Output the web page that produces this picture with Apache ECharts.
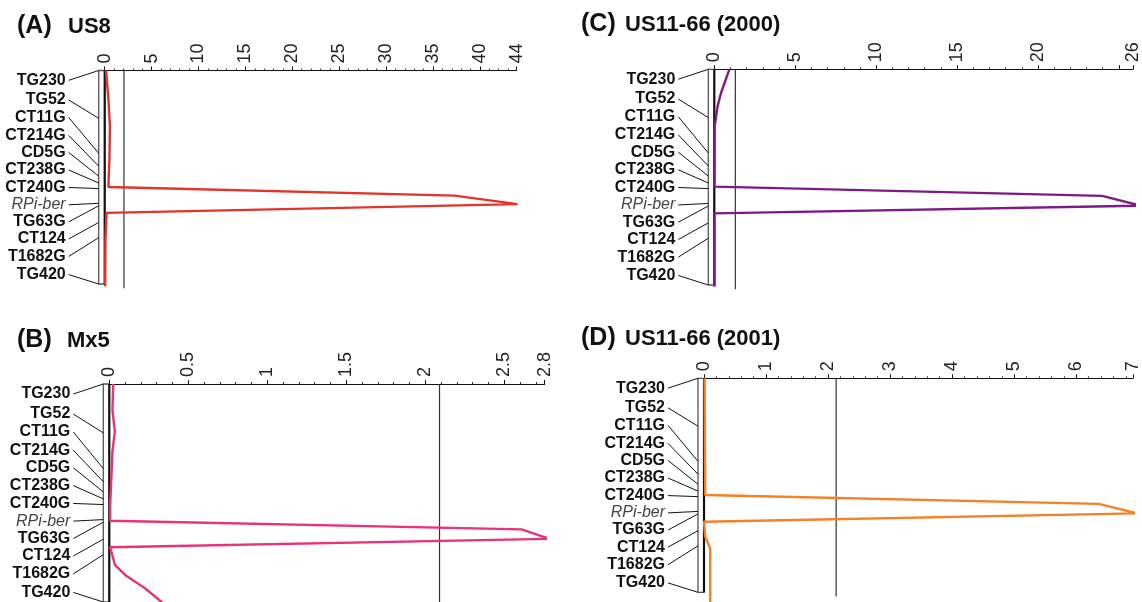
<!DOCTYPE html>
<html><head><meta charset="utf-8">
<script src="https://cdn.jsdelivr.net/npm/echarts@6/dist/echarts.min.js"></script>
<style>html,body{margin:0;padding:0;background:#fff}#c{width:1142px;height:602px}</style>
</head><body><div id="c"></div>
<script>
// ---- data ----
const markerNames = ['TG230','TG52','CT11G','CT214G','CD5G','CT238G','CT240G','RPi-ber','TG63G','CT124','T1682G','TG420'];
const markerPos   = [0, 22.4, 38.8, 44.8, 49.5, 52.7, 55.3, 62.2, 63.4, 71.2, 78.3, 100];   // map position (chromosome = 0..100)
const labelPos    = [4.6, 13.8, 22.0, 30.4, 38.4, 46.6, 54.8, 62.9, 70.9, 78.9, 87.1, 95.6];

const panelLetters = ['(A)','(B)','(C)','(D)'];
const panelNames   = ['US8','Mx5','US11-66 (2000)','US11-66 (2001)'];
const axisMax      = [43.92, 2.755, 25.87, 6.915];
const axisInterval = [5, 0.5, 5, 1];
const axisDecimals = [0, 1, 0, 0];
const unlabelledTicks = [[], [], [25], []];
const thresholds   = [2.05, 2.09, 1.3, 2.13];
const thresholdEnd = [102, 110, 102, 102];

// LOD profiles: [LOD, map position]
const lodA = [[0.15,0],[0.4,13.8],[0.56,26.3],[0.5,41.8],[0.4,53.5],[0.4,54.6],[37.3,58.6],[44.0,62.6],[0.2,66.7],[0.08,79.2],[0.05,101]];
const lodB = [[0.025,0],[0.02,11.9],[0.035,21.8],[0.02,30.9],[0.005,56.6],[0.005,62.7],[2.61,66.7],[2.785,71.0],[0.005,74.9],[0.036,83.0],[0.1,87.6],[0.226,93.7],[0.33,99.9],[0.4,104]];
const lodC = [[0.93,0],[0.41,11.1],[0.2,17.3],[0.02,26.6],[0.01,54.4],[23.97,58.7],[26.35,63.2],[0.01,66.8],[0.01,100.8]];
const lodD = [[0.01,0],[0.02,54.5],[0.01,54.9],[6.36,58.7],[6.99,63.1],[0.0,67.0],[0.02,74.0],[0.1,79.4],[0.1,105]];
const lodSeries = [lodA, lodB, lodC, lodD];
const colors = ['#e2342b','#e8327a','#7d1a87','#f58025'];

// ---- layout ----
const FONT = 'Arial, "Liberation Sans", Helvetica, sans-serif';
const grids = [
  {left:104.7, top:70.5, width:412, height:213.5},
  {left:109.3, top:384, width:435.3, height:218},
  {left:714.3, top:69.3, width:422.4, height:215.7},
  {left:704, top:378.3, width:433.3, height:214}
];
const titlePos = [[17,26,68],[17,340,67],[581,24,625],[581,338,625]];
const BAR_W = 6, CONN = 30, GAP = 3;

const chart = echarts.init(document.getElementById('c'), null, {renderer:'canvas'});

const xAxes = [], yAxes = [], series = [], graphics = [];
for (let i = 0; i < 4; i++) {
  const mx = axisMax[i], iv = axisInterval[i], dec = axisDecimals[i], skip = unlabelledTicks[i];
  xAxes.push({
    type:'value', gridIndex:i, position:'top', min:0, max:mx, interval:iv,
    axisLine:{show:true, onZero:false, lineStyle:{color:'#111', width:1}},
    axisTick:{show:true, length:4, lineStyle:{color:'#111', width:1}},
    minorTick:{show:true, splitNumber:5, length:2, lineStyle:{color:'#333', width:1}},
    splitLine:{show:false},
    axisLabel:{rotate:-90, margin:7, fontSize:18, color:'#222', fontFamily:FONT,
      showMinLabel:true, showMaxLabel:true,
      formatter: v => skip.indexOf(v) >= 0 ? '' : String(+v.toFixed(dec))}
  });
  yAxes.push({type:'value', gridIndex:i, inverse:true, min:0, max:100, show:false});

  // chromosome bar
  series.push({
    type:'custom', xAxisIndex:i, yAxisIndex:i, clip:false, silent:true, z:1,
    data:[[0, 0, 100]],
    renderItem:(params, api) => {
      const a = api.coord([0, api.value(1)]);
      const b = api.coord([0, api.value(2)]);
      return {type:'group', children:[
        {type:'rect', shape:{x:a[0]-BAR_W, y:a[1], width:BAR_W, height:b[1]-a[1]},
          style:{fill:'#fff', stroke:'#555', lineWidth:1.3}},
        {type:'line', shape:{x1:a[0], y1:a[1], x2:b[0], y2:b[1]}, style:{stroke:'#111', lineWidth:2.2}}
      ]};
    }
  });
  // markers: connectors + labels
  series.push({
    type:'custom', xAxisIndex:i, yAxisIndex:i, clip:false, silent:true, z:2,
    data: markerNames.map((n, k) => [0, markerPos[k], labelPos[k], k]),
    renderItem:(params, api) => {
      const k = api.value(3);
      const pm = api.coord([0, api.value(1)]);
      const pl = api.coord([0, api.value(2)]);
      const xb = pm[0] - BAR_W;
      const isGene = markerNames[k] === 'RPi-ber';
      return {type:'group', children:[
        {type:'line', shape:{x1:xb-CONN, y1:pl[1], x2:xb, y2:pm[1]}, style:{stroke:'#111', lineWidth:1}},
        {type:'text', x:xb-CONN-GAP, y:pl[1], style:{text:markerNames[k], align:'right', verticalAlign:'middle',
          fill: isGene ? '#444' : '#111',
          font: (isGene ? 'italic normal ' : 'bold ') + '16px ' + FONT}}
      ]};
    }
  });
  // threshold
  series.push({
    type:'line', xAxisIndex:i, yAxisIndex:i, clip:false, silent:true, z:3,
    data:[[thresholds[i], 0], [thresholds[i], thresholdEnd[i]]],
    showSymbol:false, symbol:'none', lineStyle:{color:'#333', width:1.2}
  });
  // LOD profile
  series.push({
    type:'line', xAxisIndex:i, yAxisIndex:i, clip:false, silent:true, z:4,
    data: lodSeries[i], showSymbol:false, symbol:'none', smooth:false,
    lineStyle:{color:colors[i], width:2.4}
  });

  const t = titlePos[i];
  graphics.push({type:'text', x:t[0], y:t[1], style:{text:panelLetters[i], font:'bold 25px ' + FONT, fill:'#111', verticalAlign:'middle'}});
  graphics.push({type:'text', x:t[2], y:t[1]+1, style:{text:panelNames[i], font:'bold 22px ' + FONT, fill:'#111', verticalAlign:'middle'}});
}

chart.setOption({
  animation:false,
  backgroundColor:'#fff',
  grid: grids,
  xAxis: xAxes,
  yAxis: yAxes,
  series: series,
  graphic: graphics
});
</script>
</body></html>
